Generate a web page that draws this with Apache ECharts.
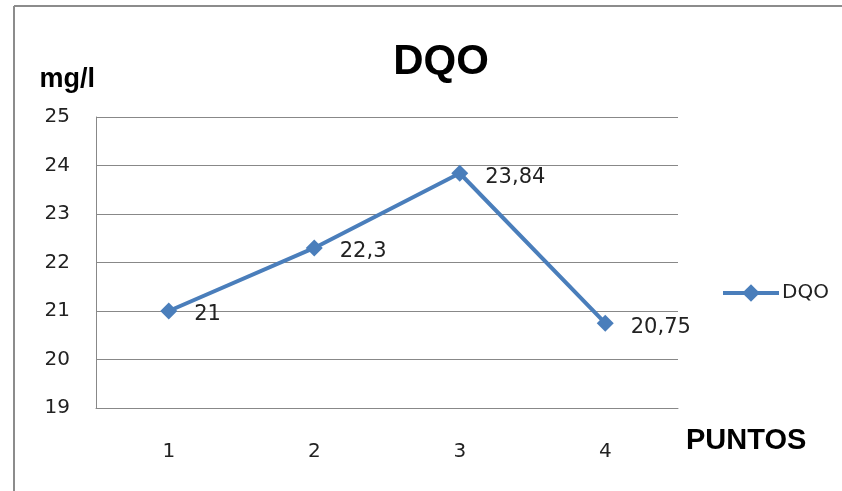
<!DOCTYPE html>
<html><head><meta charset="utf-8">
<script src="https://cdn.jsdelivr.net/npm/echarts@6/dist/echarts.min.js"></script>
<style>html,body{margin:0;padding:0;background:#fff}#c{width:842px;height:491px}</style>
</head><body><div id="c"></div>
<script>
const categories = ['1','2','3','4'];
const dqoValues = [21, 22.3, 23.84, 20.75];
const dqoLabels = ['21','22,3','23,84','20,75'];
const yTicks = [19, 20, 21, 22, 23, 24, 25];

const chart = echarts.init(document.getElementById('c'));
chart.setOption({
  animation: false,
  backgroundColor: '#fff',
  graphic: [
    {type:'line', shape:{x1:14,y1:6,x2:14,y2:491}, style:{stroke:'#8c8c8c', lineWidth:2}},
    {type:'line', shape:{x1:14,y1:6,x2:842,y2:6}, style:{stroke:'#8c8c8c', lineWidth:2}}
  ],
  title: {
    text: 'DQO', left: 436, top: 36, textAlign: 'center',
    textStyle: {fontFamily: 'Liberation Sans, Arial', fontWeight: 'bold', fontSize: 42, color: '#000'}
  },
  legend: {
    data: ['DQO'], left: 716, top: 278, orient: 'vertical',
    itemWidth: 56, itemHeight: 22, itemGap: 4,
    lineStyle: {width: 4},
    textStyle: {fontFamily: 'DejaVu Sans', fontSize: 20, color: '#222', padding:[0,0,0,-2]}
  },
  grid: {left: 96, right: 164, top: 117, bottom: 83},
  xAxis: {
    type: 'category', data: categories, boundaryGap: true,
    name: 'PUNTOS', nameLocation: 'end', nameGap: 0,
    nameTextStyle: {fontFamily: 'Liberation Sans, Arial', fontWeight: 'bold', fontSize: 29, color: '#000', align: 'left', verticalAlign: 'top', padding: [18, 0, 0, 8]},
    axisLine: {lineStyle: {color: '#888', width: 1}},
    axisTick: {show: false},
    axisLabel: {margin: 34, fontFamily: 'DejaVu Sans', fontSize: 20, color: '#222'}
  },
  yAxis: {
    type: 'value', min: 19, max: 25, interval: 1,
    name: 'mg/l', nameLocation: 'end', nameGap: 0,
    nameTextStyle: {fontFamily: 'Liberation Sans, Arial', fontWeight: 'bold', fontSize: 27, color: '#000', align: 'right', verticalAlign: 'bottom', padding: [0, 1, 24, 0]},
    axisLine: {show: true, lineStyle: {color: '#888', width: 1}},
    axisTick: {show: false},
    splitLine: {lineStyle: {color: '#888', width: 1}},
    axisLabel: {margin: 26, fontFamily: 'DejaVu Sans', fontSize: 20, color: '#222',
      formatter: v => yTicks.includes(v) ? String(v) : ''}
  },
  series: [{
    name: 'DQO', type: 'line', data: dqoValues,
    symbol: 'diamond', symbolSize: 17,
    lineStyle: {color: '#4a7ebb', width: 4},
    itemStyle: {color: '#4a7ebb'},
    label: {
      show: true, position: 'right', distance: 17, offset: [0, 4],
      fontFamily: 'DejaVu Sans', fontSize: 21, color: '#222',
      formatter: p => dqoLabels[p.dataIndex]
    }
  }]
});
</script></body></html>
